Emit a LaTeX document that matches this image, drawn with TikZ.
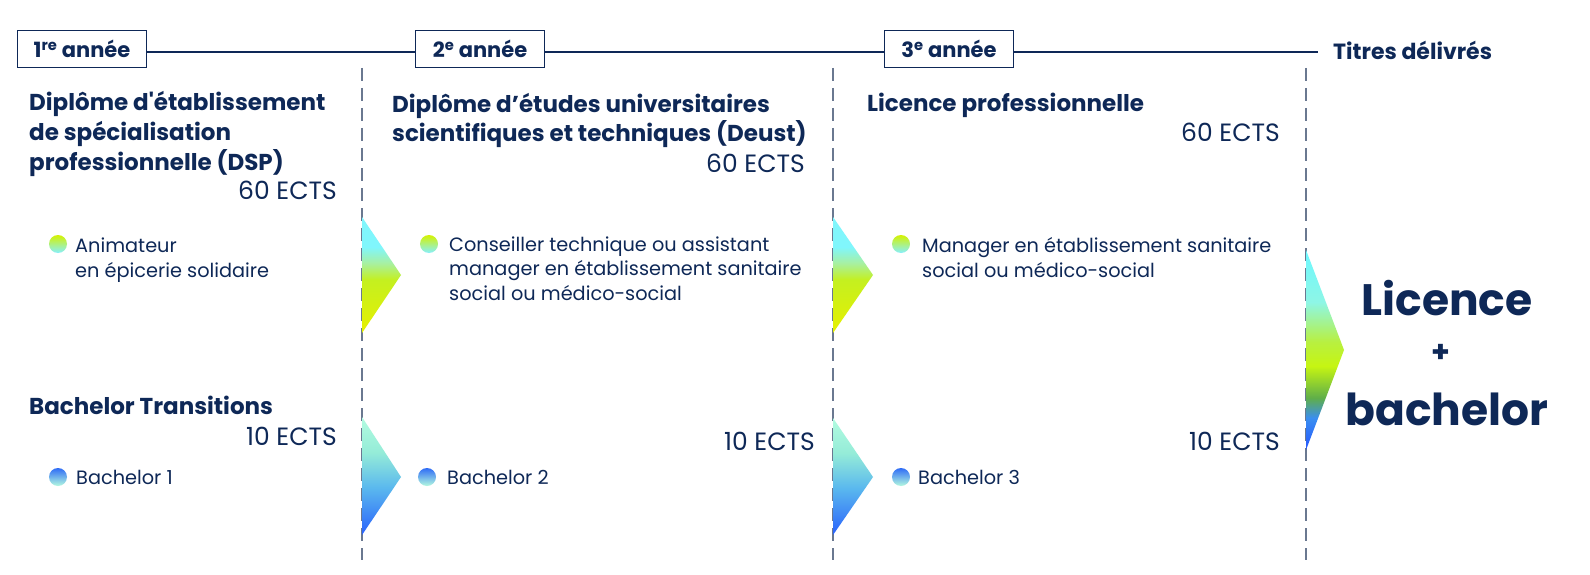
\documentclass[tikz,border=0pt]{standalone}
\usepackage{fontspec}
\setmainfont{Poppins}
\definecolor{navy}{HTML}{0E2857}
\definecolor{dashc}{HTML}{6A7890}
\definecolor{ga1}{HTML}{E6F000}
\definecolor{ga2}{HTML}{C4F020}
\definecolor{ga3}{HTML}{A8F0A0}
\definecolor{ga4}{HTML}{80F6FC}
\definecolor{gb1}{HTML}{2A62FC}
\definecolor{gb2}{HTML}{5AB8EE}
\definecolor{gb3}{HTML}{95ECD8}
\definecolor{gb4}{HTML}{B2FBE0}
\definecolor{gc1}{HTML}{2456FF}
\definecolor{gc2}{HTML}{3A8EF0}
\definecolor{gc3}{HTML}{5FAE4A}
\definecolor{gc4}{HTML}{C6F512}
\definecolor{gc5}{HTML}{B8F040}
\definecolor{gc6}{HTML}{8EF6E6}
\definecolor{gc7}{HTML}{6CF8FF}
\definecolor{bt1}{HTML}{D4F200}
\definecolor{bt2}{HTML}{86F0FF}
\definecolor{bb1}{HTML}{2F6CF6}
\definecolor{bb2}{HTML}{B4FAE0}
\pgfdeclareverticalshading{gradA}{100bp}{color(0bp)=(ga1); color(25bp)=(ga1); color(48bp)=(ga2); color(55bp)=(ga3); color(62bp)=(ga4); color(75bp)=(ga4); color(100bp)=(ga4)}
\pgfdeclareverticalshading{gradB}{100bp}{color(0bp)=(gb1); color(25bp)=(gb1); color(45bp)=(gb2); color(60bp)=(gb3); color(75bp)=(gb4); color(100bp)=(gb4)}
\pgfdeclareverticalshading{gradC}{100bp}{color(0bp)=(gc1); color(25bp)=(gc1); color(33bp)=(gc2); color(38bp)=(gc3); color(46bp)=(gc4); color(52bp)=(gc5); color(62bp)=(gc6); color(75bp)=(gc7); color(100bp)=(gc7)}
\begin{document}
\begin{tikzpicture}[x=1pt,y=-1pt,
  head/.style={font=\bfseries\fontsize{23}{29}\selectfont, text=navy, inner sep=0pt, anchor=base west},
  ects/.style={font=\fontsize{25}{28}\selectfont, text=navy, inner sep=0pt, anchor=base east},
  item/.style={font=\fontsize{19.3}{25}\selectfont, text=navy, inner sep=0pt, anchor=base west},
  yearbox/.style={draw=navy, line width=1.8pt, fill=white, minimum width=129pt, minimum height=37pt, inner sep=0pt, font=\bfseries\fontsize{21}{26}\selectfont, text=navy},
  sep/.style={draw=dashc, line width=1.1pt, dash pattern=on 13pt off 7pt},
  big/.style={font=\bfseries\fontsize{44}{50}\selectfont, text=navy, inner sep=0pt, anchor=base}
]
\useasboundingbox (0,0) rectangle (1590,575);
\fill[white] (0,0) rectangle (1590,575);

% separators
\coordinate (s1t) at (362,68); \coordinate (s1b) at (362,560);
\coordinate (s2t) at (833,68); \coordinate (s2b) at (833,560);
\coordinate (s3t) at (1306,68); \coordinate (s3b) at (1306,560);
\draw[sep] (s1t) -- (s1b);
\draw[sep] (s2t) -- (s2b);
\draw[sep] (s3t) -- (s3b);

% timeline
\coordinate (lineend) at (1318,52);
\node[yearbox] (y1) at (82,49) {1\textsuperscript{re} année};
\node[yearbox] (y2) at (480,49) {2\textsuperscript{e} année};
\node[yearbox] (y3) at (949,49) {3\textsuperscript{e} année};
\draw[navy, line width=1.8pt] (y1.east |- 0,52) -- (y2.west |- 0,52);
\draw[navy, line width=1.8pt] (y2.east |- 0,52) -- (y3.west |- 0,52);
\draw[navy, line width=1.8pt] (y3.east |- 0,52) -- (lineend);
\node[font=\bfseries\fontsize{22}{26}\selectfont, text=navy, inner sep=0pt, anchor=base west] (titres) at (1333,60) {Titres délivrés};

% arrows
\shade[shading=gradA] (362,217) -- (401,275) -- (362,333) -- cycle;
\shade[shading=gradB] (362,417) -- (401,477) -- (362,535) -- cycle;
\shade[shading=gradA] (833,217) -- (873,275) -- (833,333) -- cycle;
\shade[shading=gradB] (833,418) -- (873,477) -- (833,535) -- cycle;
\shade[shading=gradC] (1306,250) -- (1344,350) -- (1306,450) -- cycle;

% column 1
\node[head] (h1a) at (29,111) {Diplôme d\textquotesingle établissement};
\node[head] (h1b) at (29,141) {de spécialisation};
\node[head] (h1c) at (29,171) {professionnelle (DSP)};
\node[ects] (e1a) at (337,199) {60 ECTS};
\shade[top color=bt1, bottom color=bt2] (58,244) circle (9);
\node[item] (i1a) at (75,252) {Animateur};
\node[item] (i1b) at (75,277) {en épicerie solidaire};
\node[head] (h1d) at (29,414) {Bachelor Transitions};
\node[ects] (e1b) at (337,445) {10 ECTS};
\shade[top color=bb1, bottom color=bb2] (58,477) circle (9);
\node[item] (i1c) at (76,484) {Bachelor 1};

% column 2
\node[head] (h2a) at (392,113) {Diplôme d’études universitaires};
\node[head] (h2b) at (392,142) {scientifiques et techniques (Deust)};
\node[ects] (e2a) at (805,172) {60 ECTS};
\shade[top color=bt1, bottom color=bt2] (429,244) circle (9);
\node[item] (i2a) at (449,251) {Conseiller technique ou assistant};
\node[item] (i2b) at (449,275) {manager en établissement sanitaire};
\node[item] (i2c) at (449,300) {social ou médico-social};
\node[ects] (e2b) at (815,450) {10 ECTS};
\shade[top color=bb1, bottom color=bb2] (427,477) circle (9);
\node[item] (i2d) at (447,484) {Bachelor 2};

% column 3
\node[head] (h3a) at (867,112) {Licence professionnelle};
\node[ects] (e3a) at (1280,142) {60 ECTS};
\shade[top color=bt1, bottom color=bt2] (901,244) circle (9);
\node[item] (i3a) at (922,252) {Manager en établissement sanitaire};
\node[item] (i3b) at (922,277) {social ou médico-social};
\node[ects] (e3b) at (1280,450) {10 ECTS};
\shade[top color=bb1, bottom color=bb2] (901,477) circle (9);
\node[item] (i3c) at (918,484) {Bachelor 3};

% final
\node[big] (lic) at (1447,315) {Licence};
\node[font=\bfseries\fontsize{30}{30}\selectfont, text=navy, inner sep=0pt] (plus) at (1441,353) {+};
\node[big] (bach) at (1447,425) {bachelor};
\end{tikzpicture}
\end{document}
